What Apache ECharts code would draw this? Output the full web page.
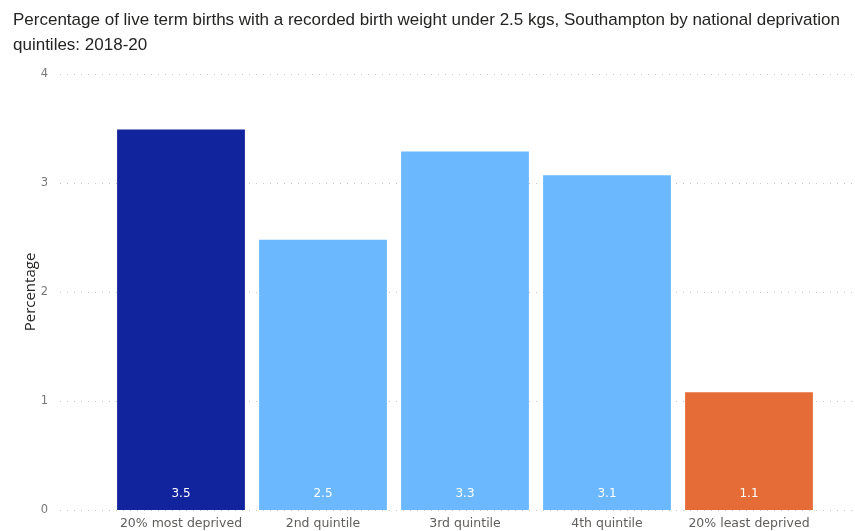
<!DOCTYPE html>
<html>
<head>
<meta charset="utf-8">
<script src="https://cdn.jsdelivr.net/npm/echarts@6/dist/echarts.min.js"></script>
<style>
    html, body { margin: 0; padding: 0; background: #fff; }
    #main { width: 855px; height: 531px; }
</style>
</head>
<body>
<div id="main"></div>
<script>
var categories = ['20% most deprived', '2nd quintile', '3rd quintile', '4th quintile', '20% least deprived'];
var values = [3.49, 2.48, 3.29, 3.07, 1.08];
var barColors = ['#12239E', '#6CB8FF', '#6CB8FF', '#6CB8FF', '#E66C37'];
var yTicks = [0, 1, 2, 3, 4];

var myChart = echarts.init(document.getElementById('main'));

var data = [];
for (var i = 0; i < values.length; i++) {
    data.push({
        value: values[i],
        itemStyle: { color: barColors[i] }
    });
}

var option = {
    animation: false,
    backgroundColor: '#fff',
    title: {
        text: 'Percentage of live term births with a recorded birth weight under 2.5 kgs, Southampton by national deprivation\nquintiles: 2018-20',
        left: 8,
        top: 3,
        textStyle: {
            color: '#252423',
            fontFamily: 'Liberation Sans',
            fontWeight: 'normal',
            fontSize: 17,
            lineHeight: 25
        }
    },
    grid: [
        // wide grid: holds the gridlines and y labels
        { left: 60, right: 2, top: 74, bottom: 21 },
        // bars
        { left: 110, right: 35, top: 74, bottom: 21 }
    ],
    xAxis: [
        { gridIndex: 0, type: 'category', data: categories, show: false },
        {
            gridIndex: 1,
            type: 'category',
            data: categories,
            axisLine: { show: false },
            axisTick: { show: false },
            axisLabel: {
                color: '#605E5C',
                fontFamily: 'DejaVu Sans',
                fontSize: 12.5,
                margin: 7,
                interval: 0
            }
        }
    ],
    yAxis: [
        {
            gridIndex: 0,
            type: 'value',
            min: 0,
            max: 4,
            interval: 1,
            name: 'Percentage',
            nameLocation: 'middle',
            nameRotate: 90,
            nameGap: 22,
            nameMoveOverlap: false,
            nameTextStyle: {
                color: '#252423',
                fontFamily: 'Open Sans',
                fontSize: 15
            },
            axisLine: { show: false },
            axisTick: { show: false },
            axisLabel: {
                color: '#777',
                fontFamily: 'DejaVu Sans',
                fontSize: 11.5,
                margin: 12,
                formatter: function (v) { return yTicks.indexOf(v) >= 0 ? String(v) : ''; }
            },
            splitLine: {
                lineStyle: { color: '#C8C8C8', type: [1, 6], width: 1 }
            }
        },
        {
            gridIndex: 1,
            type: 'value',
            min: 0,
            max: 4,
            interval: 1,
            show: false,
            splitLine: { show: false }
        }
    ],
    series: [
        {
            type: 'bar',
            xAxisIndex: 1,
            yAxisIndex: 1,
            barCategoryGap: '10%',
            data: data,
            label: {
                show: true,
                position: 'insideBottom',
                distance: 10,
                color: '#fff',
                fontFamily: 'DejaVu Sans',
                fontSize: 12,
                formatter: function (p) { return p.value.toFixed(1); }
            }
        }
    ]
};

myChart.setOption(option);
</script>
</body>
</html>
